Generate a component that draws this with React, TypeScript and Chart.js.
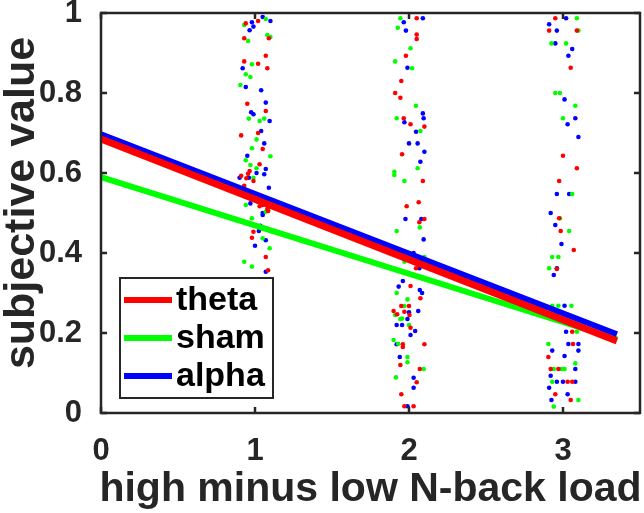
import React, { useEffect, useRef } from 'react';
import { Chart, registerables } from 'chart.js';

Chart.register(...registerables);

// ---- data ----
const seriesNames = ['theta', 'sham', 'alpha'];
const seriesColors = ['#ff0000', '#00ff00', '#0000ff'];

const xTitle = 'high minus low N-back load';
const yTitle = 'subjective value';

const fitX = [0, 3.35];
const thetaFit = [0.685, 0.18];
const shamFit = [0.59, 0.185];
const alphaFit = [0.697, 0.197];

const xTicks = [0, 1, 2, 3];
const yTicks = [0, 0.2, 0.4, 0.6, 0.8, 1];

const thetaPoints: [number, number][] = [
  [0.94, 0.974], [1.02, 0.98], [0.93, 0.937], [1.09, 0.937], [1.07, 0.893], [0.93, 0.879], [1.02, 0.873],
  [1.08, 0.862], [0.95, 0.773], [1.07, 0.755], [1.02, 0.70], [0.91, 0.694], [1.05, 0.66], [1.03, 0.622],
  [0.965, 0.605], [0.955, 0.598], [0.91, 0.593], [0.944, 0.587], [0.99, 0.58], [0.93, 0.568], [1.02, 0.528],
  [1.03, 0.517], [1.05, 0.52], [1.08, 0.51], [1.085, 0.505], [0.99, 0.453], [0.98, 0.438], [1.07, 0.39],
  [1.085, 0.357],
  [2.05, 0.987], [2.05, 0.946], [2.05, 0.935], [1.98, 0.893], [1.95, 0.83], [1.91, 0.80], [1.944, 0.788],
  [1.966, 0.737], [2.01, 0.722], [2.10, 0.716], [1.955, 0.647], [2.09, 0.58], [2.063, 0.527], [1.985, 0.517],
  [2.067, 0.477], [2.10, 0.485], [2.046, 0.362], [2.01, 0.3175], [2.074, 0.287], [1.95, 0.2675], [2.0, 0.2675],
  [1.90, 0.255], [1.923, 0.247], [1.97, 0.253], [2.003, 0.245], [2.01, 0.213], [1.96, 0.172], [1.96, 0.165],
  [2.10, 0.172], [1.944, 0.12], [2.07, 0.11], [2.05, 0.077], [1.95, 0.047], [1.97, 0.017], [2.03, 0.017],
  [2.95, 0.987], [2.91, 0.956], [3.09, 0.956], [3.05, 0.863], [3.0, 0.643], [3.09, 0.612], [2.975, 0.58],
  [2.975, 0.487], [2.985, 0.455], [3.07, 0.4075], [2.96, 0.36], [2.975, 0.249], [3.09, 0.235], [3.06, 0.203],
  [3.065, 0.1725], [2.905, 0.14], [2.92, 0.11], [2.97, 0.11], [3.03, 0.078], [3.06, 0.078], [2.95, 0.047],
  [3.05, 0.0325],
];

const shamPoints: [number, number][] = [
  [0.93, 0.97], [1.07, 0.985], [0.955, 0.93], [1.08, 0.945], [1.10, 0.94], [0.98, 0.872], [0.94, 0.847],
  [0.97, 0.84], [0.905, 0.82], [0.96, 0.736], [1.03, 0.73], [1.06, 0.736], [1.01, 0.684], [0.98, 0.662],
  [1.10, 0.642], [0.94, 0.632], [0.97, 0.62], [1.01, 0.612], [0.99, 0.588], [1.0, 0.547], [0.94, 0.52],
  [1.085, 0.507], [1.07, 0.503], [0.98, 0.487], [1.05, 0.46], [1.05, 0.437], [1.095, 0.412], [0.93, 0.378],
  [0.98, 0.366],
  [1.944, 0.987], [1.927, 0.963], [2.01, 0.912], [1.91, 0.879], [2.02, 0.862], [2.045, 0.768], [1.92, 0.737],
  [2.074, 0.705], [2.056, 0.612], [1.905, 0.603], [1.905, 0.595], [1.97, 0.58], [2.07, 0.464], [1.92, 0.455],
  [2.10, 0.39], [1.97, 0.378], [2.04, 0.377], [1.92, 0.30], [1.99, 0.284], [1.97, 0.2675], [1.91, 0.245],
  [1.944, 0.235], [1.955, 0.236], [2.0, 0.22], [1.90, 0.1825], [1.93, 0.173], [1.99, 0.14], [1.99, 0.127],
  [2.095, 0.11], [1.915, 0.089],
  [3.09, 0.987], [3.10, 0.956], [2.925, 0.924], [3.02, 0.924], [2.95, 0.80], [2.98, 0.80], [3.08, 0.768],
  [3.0, 0.737], [3.06, 0.5475], [2.98, 0.487], [3.04, 0.455], [2.93, 0.39], [2.97, 0.39], [2.91, 0.362],
  [2.93, 0.268], [2.97, 0.268], [3.055, 0.268], [3.09, 0.203], [2.905, 0.1725], [3.08, 0.124], [2.94, 0.11],
  [2.99, 0.11], [3.01, 0.11], [2.93, 0.078], [3.10, 0.0325], [2.94, 0.016],
];

const alphaPoints: [number, number][] = [
  [0.98, 0.977], [1.05, 0.99], [1.10, 0.98], [0.99, 0.966], [0.965, 0.957], [0.92, 0.862], [0.94, 0.815],
  [1.04, 0.807], [1.07, 0.776], [0.975, 0.752], [0.99, 0.747], [1.095, 0.73], [1.04, 0.705], [1.06, 0.674],
  [0.95, 0.643], [1.07, 0.61], [1.01, 0.60], [1.06, 0.597], [0.90, 0.588], [0.96, 0.588], [1.09, 0.563],
  [0.97, 0.524], [1.05, 0.50], [1.05, 0.495], [1.035, 0.468], [1.07, 0.462], [1.025, 0.455], [1.07, 0.432],
  [1.0, 0.418], [1.07, 0.353],
  [2.09, 0.987], [1.966, 0.977], [1.98, 0.956], [1.99, 0.863], [2.09, 0.749], [2.095, 0.737], [1.97, 0.727],
  [2.046, 0.703], [2.0, 0.674], [2.056, 0.674], [2.10, 0.653], [2.074, 0.628], [1.977, 0.485], [2.08, 0.485],
  [2.095, 0.434], [2.03, 0.40], [2.067, 0.362], [1.96, 0.33], [1.933, 0.316], [2.07, 0.3075], [2.085, 0.30],
  [2.0, 0.252], [2.06, 0.255], [1.99, 0.235], [1.92, 0.22], [1.955, 0.22], [2.04, 0.205], [2.01, 0.195],
  [1.92, 0.172], [1.94, 0.14], [2.03, 0.088], [2.03, 0.063], [1.99, 0.017],
  [3.02, 0.987], [2.91, 0.972], [2.96, 0.956], [2.95, 0.924], [3.06, 0.91], [3.035, 0.893], [3.01, 0.784],
  [3.08, 0.737], [3.03, 0.722], [3.10, 0.69], [2.96, 0.5475], [3.04, 0.5475], [2.92, 0.50], [2.95, 0.47],
  [2.99, 0.4225], [2.96, 0.362], [2.94, 0.345], [3.01, 0.268], [2.985, 0.235], [3.02, 0.203], [3.035, 0.1725],
  [3.10, 0.1725], [2.93, 0.156], [3.10, 0.156], [3.01, 0.1425], [3.08, 0.11], [2.92, 0.093], [2.96, 0.078],
  [3.0, 0.078], [3.08, 0.078], [2.91, 0.063], [3.03, 0.047], [2.925, 0.0325],
];

const FONT = "'Liberation Sans', Arial, Helvetica, sans-serif";
const AXIS_COLOR = '#262626';

const toXY = (pts: [number, number][]) => pts.map(([x, y]) => ({ x, y }));
const fitData = (ys: number[]) => fitX.map((x, i) => ({ x, y: ys[i] }));

const frameLegendPlugin = {
  id: 'frameLegend',
  afterDatasetsDraw(chart: any) {
    const { ctx, chartArea, scales } = chart;
    const { left, right, top, bottom } = chartArea;
    const xs = scales.x;
    const ys = scales.y;
    ctx.save();
    ctx.strokeStyle = AXIS_COLOR;
    ctx.lineWidth = 2.5;
    ctx.beginPath();
    const tl = 6;
    for (const v of xTicks) {
      const px = xs.getPixelForValue(v);
      ctx.moveTo(px, bottom);
      ctx.lineTo(px, bottom - tl);
      ctx.moveTo(px, top);
      ctx.lineTo(px, top + tl);
    }
    for (const v of yTicks) {
      const py = ys.getPixelForValue(v);
      ctx.moveTo(left, py);
      ctx.lineTo(left + tl, py);
      ctx.moveTo(right, py);
      ctx.lineTo(right - tl, py);
    }
    ctx.stroke();
    ctx.strokeRect(left, top, right - left, bottom - top);

    // legend box
    const bx = left + 19;
    const by = bottom - 135;
    const bw = 153;
    const bh = 120;
    ctx.fillStyle = '#ffffff';
    ctx.fillRect(bx, by, bw, bh);
    ctx.lineWidth = 2;
    ctx.strokeStyle = AXIS_COLOR;
    ctx.strokeRect(bx, by, bw, bh);
    ctx.font = `bold 34px ${FONT}`;
    ctx.textBaseline = 'middle';
    ctx.textAlign = 'left';
    seriesNames.forEach((name, i) => {
      const cy = by + 22 + i * 38;
      ctx.strokeStyle = seriesColors[i];
      ctx.lineWidth = 6;
      ctx.beginPath();
      ctx.moveTo(bx + 4, cy);
      ctx.lineTo(bx + 52, cy);
      ctx.stroke();
      ctx.fillStyle = '#000000';
      ctx.fillText(name, bx + 56, cy + 1);
    });
    ctx.restore();

    // axis titles
    ctx.save();
    ctx.fillStyle = AXIS_COLOR;
    ctx.textBaseline = 'alphabetic';
    ctx.textAlign = 'center';
    ctx.font = `bold 41px ${FONT}`;
    ctx.fillText(xTitle, (left + right) / 2, chart.height - 12);
    ctx.translate(34, (top + bottom) / 2 - 10);
    ctx.rotate(-Math.PI / 2);
    ctx.font = `bold 43px ${FONT}`;
    ctx.fillText(yTitle, 0, 0);
    ctx.restore();
  },
};

export default function App() {
  const ref = useRef<HTMLCanvasElement | null>(null);
  useEffect(() => {
    if (!ref.current) return;
    const pointDs = (label: string, pts: [number, number][], color: string, order: number) => ({
      type: 'scatter' as const,
      label,
      data: toXY(pts),
      backgroundColor: color,
      borderColor: color,
      borderWidth: 0,
      pointRadius: 2.3,
      showLine: false,
      order,
    });
    const lineDs = (label: string, ys: number[], color: string, width: number, order: number) => ({
      type: 'line' as const,
      label,
      data: fitData(ys),
      borderColor: color,
      backgroundColor: color,
      borderWidth: width,
      pointRadius: 0,
      showLine: true,
      fill: false,
      tension: 0,
      borderCapStyle: 'butt' as const,
      order,
    });
    const chart = new Chart(ref.current, {
      type: 'scatter',
      data: {
        datasets: [
          lineDs('theta fit', thetaFit, seriesColors[0], 7, 0),
          lineDs('alpha fit', alphaFit, seriesColors[2], 6, 1),
          lineDs('sham fit', shamFit, seriesColors[1], 6, 2),
          pointDs('theta', thetaPoints, seriesColors[0], 5),
          pointDs('sham', shamPoints, seriesColors[1], 6),
          pointDs('alpha', alphaPoints, seriesColors[2], 7),
        ] as any,
      },
      options: {
        responsive: false,
        animation: false,
        devicePixelRatio: 1,
        layout: { padding: { top: 13, right: 3, left: 0, bottom: 0 } },
        plugins: { legend: { display: false }, tooltip: { enabled: false } },
        scales: {
          x: {
            type: 'linear',
            min: 0,
            max: 3.5,
            grid: { display: false },
            border: { display: false },
            afterBuildTicks: (s: any) => {
              s.ticks = xTicks.map((v) => ({ value: v }));
            },
            afterFit: (s: any) => {
              s.height = 100;
              s.paddingLeft = 0;
              s.paddingRight = 0;
            },
            ticks: {
              color: AXIS_COLOR,
              font: { family: FONT, size: 31, weight: 'bold' },
              padding: 12,
              maxRotation: 0,
              autoSkip: false,
              callback: (v: any) => String(v),
            },
            title: { display: false },
          },
          y: {
            type: 'linear',
            min: 0,
            max: 1,
            grid: { display: false },
            border: { display: false },
            afterBuildTicks: (s: any) => {
              s.ticks = yTicks.map((v) => ({ value: v }));
            },
            afterFit: (s: any) => {
              s.width = 101;
              s.paddingTop = 0;
              s.paddingBottom = 0;
            },
            ticks: {
              color: AXIS_COLOR,
              font: { family: FONT, size: 31, weight: 'bold' },
              padding: 11,
              autoSkip: false,
              callback: (v: any) => String(Number(Number(v).toFixed(1))),
            },
            title: { display: false },
          },
        },
      } as any,
      plugins: [frameLegendPlugin],
    });
    return () => chart.destroy();
  }, []);

  return (
    <div style={{ position: 'fixed', left: 0, top: 0, width: 644, height: 513, background: '#ffffff' }}>
      <canvas ref={ref} width={644} height={513} style={{ display: 'block', width: 644, height: 513 }} />
    </div>
  );
}
